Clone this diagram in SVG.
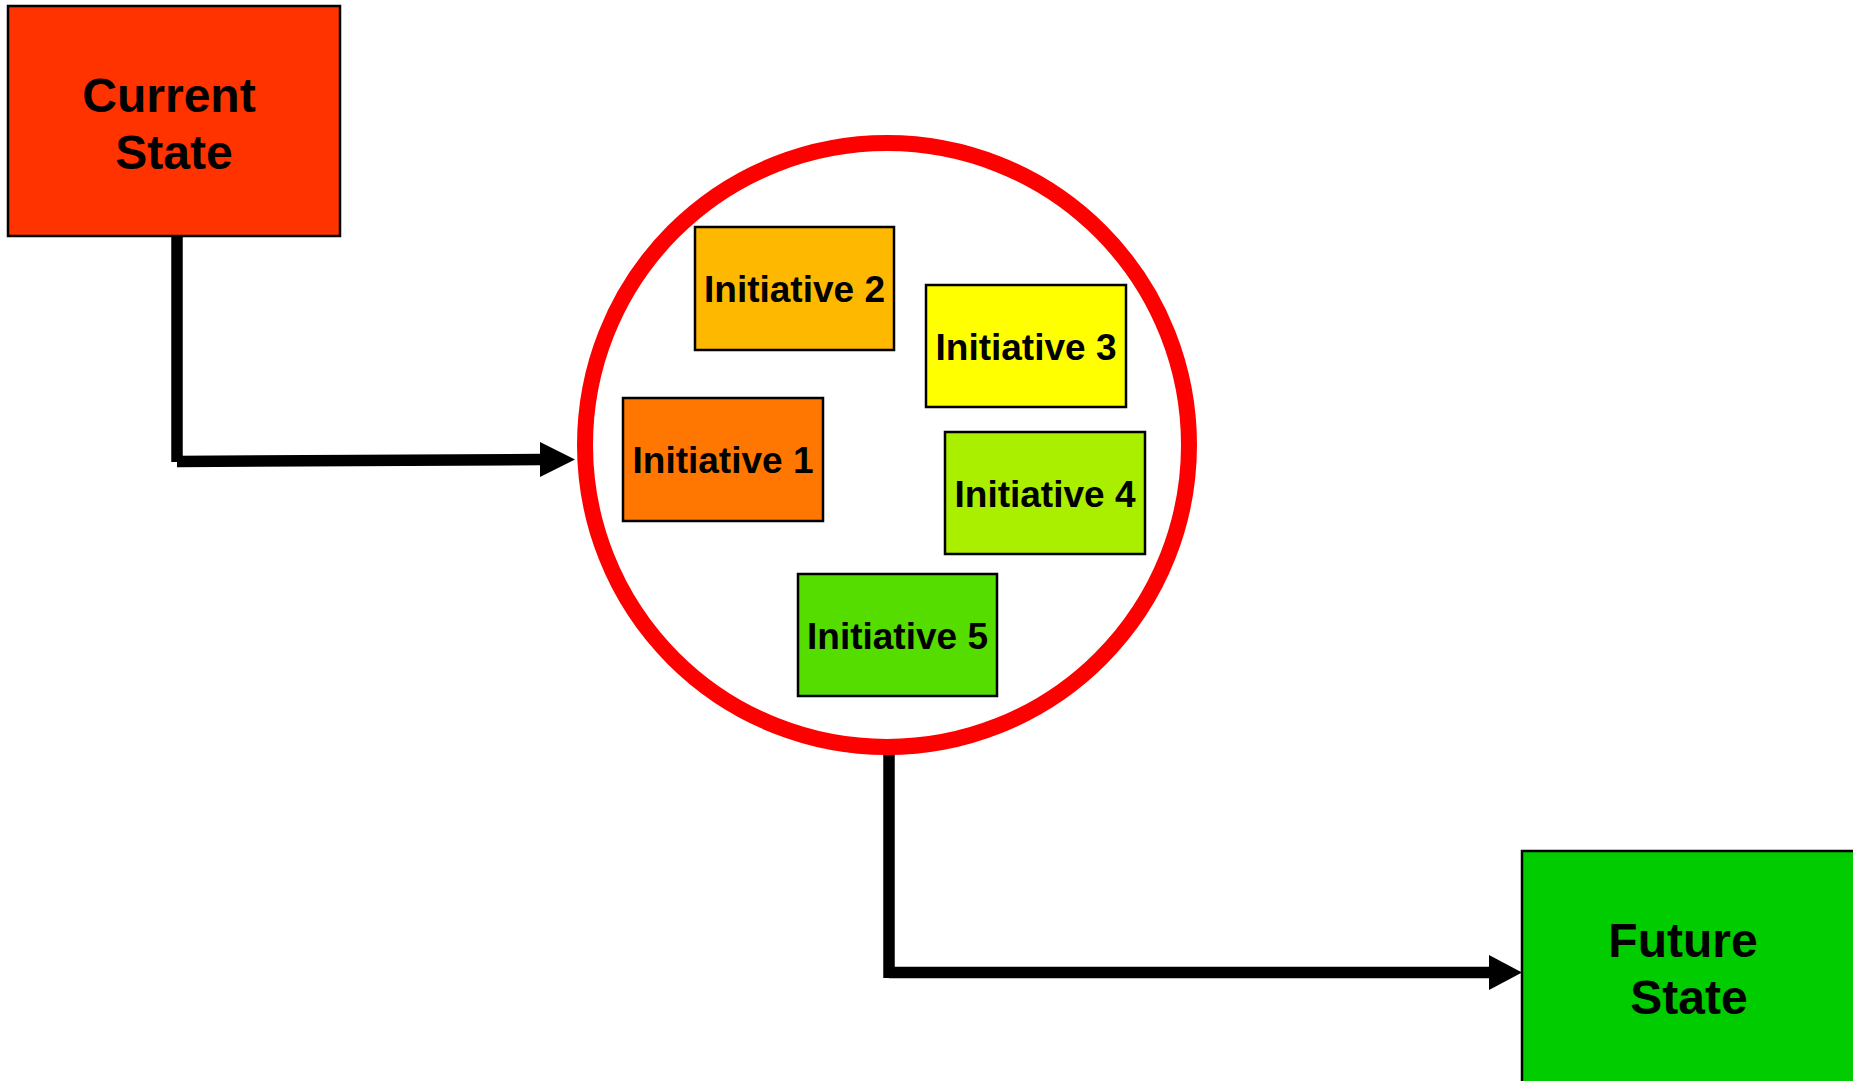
<svg xmlns="http://www.w3.org/2000/svg" width="1853" height="1081" viewBox="0 0 1853 1081">
<defs>
<style>
.box{stroke:#000;stroke-width:2.5}
.big{font-family:"Liberation Sans",Arial,sans-serif;font-weight:bold;font-size:48px;fill:#000;text-anchor:middle}
.lbl{font-family:"Liberation Sans",Arial,sans-serif;font-weight:bold;font-size:37px;fill:#000;text-anchor:middle}
.conn{stroke:#000;stroke-width:11.5;fill:none;stroke-linecap:butt}
.head{fill:#000}
</style>
</defs>
<rect width="1853" height="1081" fill="#fff"/>
<g id="connectors">
<line class="conn" x1="177" y1="236" x2="177" y2="462"/>
<line class="conn" x1="177" y1="461.5" x2="541" y2="459.5"/>
<polygon class="head" points="540,442 575,459.5 540,477"/>
<line class="conn" x1="889" y1="750" x2="889" y2="978"/>
<line class="conn" x1="889" y1="972.5" x2="1490" y2="972.5"/>
<polygon class="head" points="1489,955 1522,972.5 1489,990"/>
</g>
<g id="current-state">
<rect class="box" x="8" y="6" width="332" height="230" fill="#FF3300"/>
<text class="big" x="169" y="112">Current</text>
<text class="big" x="174" y="169">State</text>
</g>
<g id="initiatives-circle">
<circle cx="887" cy="445" r="302" fill="#fff" stroke="#FF0000" stroke-width="16"/>
</g>
<g id="initiative-2">
<rect class="box" x="695" y="227" width="199" height="123" fill="#FFB800"/>
<text class="lbl" x="794.5" y="302">Initiative 2</text>
</g>
<g id="initiative-3">
<rect class="box" x="926" y="285" width="200" height="122" fill="#FFFF00"/>
<text class="lbl" x="1026" y="359.5">Initiative 3</text>
</g>
<g id="initiative-1">
<rect class="box" x="623" y="398" width="200" height="123" fill="#FF7700"/>
<text class="lbl" x="723" y="473">Initiative 1</text>
</g>
<g id="initiative-4">
<rect class="box" x="945" y="432" width="200" height="122" fill="#AAEE00"/>
<text class="lbl" x="1045" y="506.5">Initiative 4</text>
</g>
<g id="initiative-5">
<rect class="box" x="798" y="574" width="199" height="122" fill="#55DD00"/>
<text class="lbl" x="897.5" y="648.5">Initiative 5</text>
</g>
<g id="future-state">
<rect class="box" x="1522" y="851" width="345" height="245" fill="#00CC00"/>
<text class="big" x="1683" y="957">Future</text>
<text class="big" x="1689" y="1014">State</text>
</g>
</svg>
